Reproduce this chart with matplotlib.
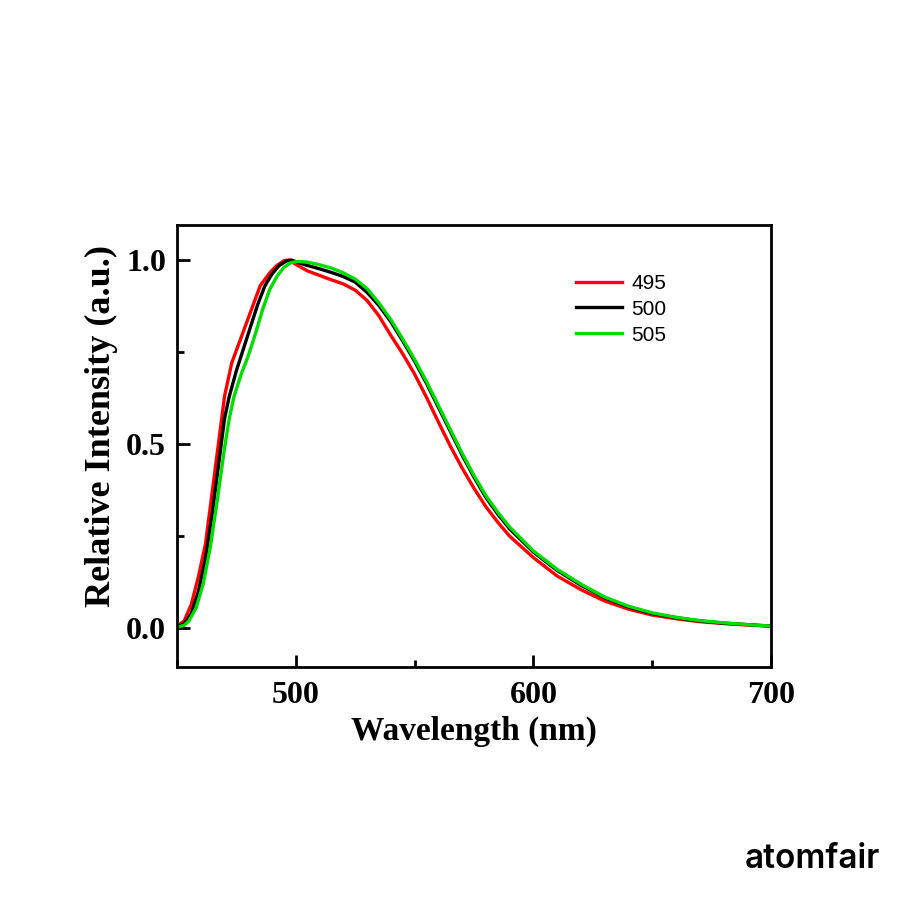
import numpy as np
import matplotlib
matplotlib.use("Agg")
import matplotlib.pyplot as plt
from matplotlib.ticker import MultipleLocator
from matplotlib.font_manager import FontProperties

# emission spectra
wl_495 = [450, 453, 456, 459, 462, 465, 468, 470, 473, 477, 481, 485, 489, 492, 495, 497,
          500, 505, 510, 515, 520, 525, 530, 535, 540, 545, 550, 555, 560, 565, 570, 575,
          580, 585, 590, 600, 610, 620, 630, 640, 650, 660, 670, 680, 690, 700]
int_495 = [0.005, 0.02, 0.065, 0.14, 0.23, 0.38, 0.53, 0.63, 0.72, 0.79, 0.86, 0.93, 0.965,
           0.985, 0.998, 1.0, 0.988, 0.97, 0.958, 0.946, 0.935, 0.918, 0.89, 0.848, 0.795,
           0.745, 0.69, 0.627, 0.56, 0.495, 0.435, 0.38, 0.33, 0.288, 0.25, 0.192, 0.142,
           0.105, 0.074, 0.052, 0.036, 0.026, 0.018, 0.013, 0.009, 0.006]

wl_500 = [450, 453, 456, 459, 462, 465, 468, 470, 472, 475, 478, 481, 484, 487, 490, 493,
          496, 498, 501, 505, 510, 515, 520, 525, 530, 535, 540, 545, 550, 555, 560, 565,
          570, 575, 580, 585, 590, 600, 610, 620, 630, 640, 650, 660, 670, 680, 690, 700]
int_500 = [0.004, 0.012, 0.04, 0.1, 0.19, 0.32, 0.47, 0.57, 0.63, 0.7, 0.76, 0.82, 0.88,
           0.93, 0.962, 0.985, 0.997, 1.0, 0.993, 0.985, 0.976, 0.966, 0.955, 0.94, 0.912,
           0.876, 0.832, 0.78, 0.725, 0.665, 0.6, 0.535, 0.47, 0.41, 0.355, 0.31, 0.27,
           0.207, 0.157, 0.117, 0.083, 0.058, 0.04, 0.029, 0.02, 0.014, 0.01, 0.006]

wl_505 = [450, 453, 455, 458, 461, 464, 467, 470, 472, 474, 477, 480, 483, 486, 489, 492,
          495, 498, 501, 505, 510, 515, 520, 525, 530, 535, 540, 545, 550, 555, 560, 565,
          570, 575, 580, 585, 590, 600, 610, 620, 630, 640, 650, 660, 670, 680, 690, 700]
int_505 = [0.003, 0.008, 0.02, 0.055, 0.12, 0.22, 0.35, 0.49, 0.57, 0.63, 0.69, 0.74, 0.8,
           0.865, 0.92, 0.955, 0.98, 0.993, 0.996, 0.994, 0.987, 0.978, 0.965, 0.948, 0.922,
           0.883, 0.838, 0.785, 0.73, 0.67, 0.605, 0.54, 0.475, 0.415, 0.36, 0.315, 0.275,
           0.21, 0.16, 0.12, 0.085, 0.06, 0.042, 0.03, 0.021, 0.015, 0.01, 0.006]

labels = ["495", "500", "505"]
colors = ["#ff0000", "#000000", "#00dd00"]

fig = plt.figure(figsize=(9, 9), dpi=100)
ax = fig.add_axes([0.1967, 0.2589, 0.66, 0.4911])

for wl, y, lab, c in zip([wl_495, wl_500, wl_505], [int_495, int_500, int_505], labels, colors):
    ax.plot(wl, y, color=c, lw=2.4, label=lab, solid_joinstyle="round")

ax.set_xlim(450, 700)
ax.set_ylim(-0.105, 1.095)
ax.xaxis.set_major_locator(MultipleLocator(100))
ax.xaxis.set_minor_locator(MultipleLocator(50))
ax.yaxis.set_major_locator(MultipleLocator(0.5))
ax.yaxis.set_minor_locator(MultipleLocator(0.25))
ax.tick_params(which="both", direction="in", width=2, top=False, right=False)
ax.tick_params(which="major", length=9, pad=8)
ax.tick_params(axis="x", which="major", pad=10)
ax.tick_params(which="minor", length=5)
for s in ax.spines.values():
    s.set_linewidth(2)

serif = {"family": "Liberation Serif", "weight": "bold"}
for t in ax.get_xticklabels() + ax.get_yticklabels():
    t.set_fontproperties(FontProperties(family="Liberation Serif", weight="bold", size=23))
ax.set_xlabel("Wavelength (nm)", fontsize=24, labelpad=4, **serif)
ax.set_ylabel("Relative Intensity (a.u.)", fontsize=26, **serif)
ax.yaxis.set_label_coords(-0.1, 0.545)

leg = ax.legend(loc="upper left", bbox_to_anchor=(0.64, 0.932), frameon=False,
                prop={"family": "Liberation Sans", "size": 15}, handlelength=2.2,
                labelspacing=0.33, handletextpad=0.45)

fig.text(0.978, 0.028, "atomfair", ha="right", va="bottom", fontsize=24,
         fontweight="semibold", family="Inter")

fig.savefig("out.png", dpi=100)
